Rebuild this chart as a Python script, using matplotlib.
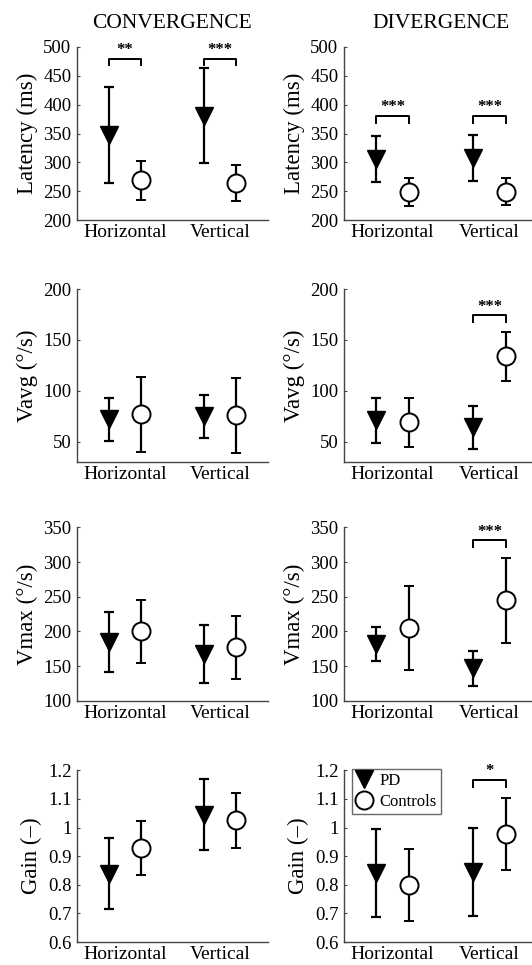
import numpy as np
import matplotlib.pyplot as plt
from matplotlib.lines import Line2D

plt.rcParams['font.family'] = ['Liberation Serif', 'DejaVu Serif']

categories = ['Horizontal', 'Vertical']

# means and error values: [Horizontal, Vertical]
# convergence
conv_lat_pd = [348, 381]
conv_lat_pd_err = [83, 82]
conv_lat_ct = [269, 264]
conv_lat_ct_err = [34, 31]
conv_vavg_pd = [72, 75]
conv_vavg_pd_err = [21, 21]
conv_vavg_ct = [77, 76]
conv_vavg_ct_err = [37, 37]
conv_vmax_pd = [185, 168]
conv_vmax_pd_err = [43, 42]
conv_vmax_ct = [200, 177]
conv_vmax_ct_err = [46, 46]
conv_gain_pd = [0.838, 1.045]
conv_gain_pd_err = [0.124, 0.124]
conv_gain_ct = [0.929, 1.026]
conv_gain_ct_err = [0.094, 0.096]

# divergence
div_lat_pd = [306, 308]
div_lat_pd_err = [40, 40]
div_lat_ct = [248, 249]
div_lat_ct_err = [24, 23]
div_vavg_pd = [71, 64]
div_vavg_pd_err = [22, 21]
div_vavg_ct = [69, 134]
div_vavg_ct_err = [24, 24]
div_vmax_pd = [182, 147]
div_vmax_pd_err = [25, 25]
div_vmax_ct = [205, 245]
div_vmax_ct_err = [61, 61]
div_gain_pd = [0.84, 0.845]
div_gain_pd_err = [0.154, 0.153]
div_gain_ct = [0.80, 0.977]
div_gain_ct_err = [0.126, 0.125]

ylabels = ['Latency (ms)', 'Vavg (°/s)', 'Vmax (°/s)', 'Gain (–)']
ylims = [(200, 500), (30, 200), (100, 350), (0.6, 1.2)]
yticks = [[200, 250, 300, 350, 400, 450, 500],
          [50, 100, 150, 200],
          [100, 150, 200, 250, 300, 350],
          [0.6, 0.7, 0.8, 0.9, 1.0, 1.1, 1.2]]
yticklabels = [None, None, None, ['0.6', '0.7', '0.8', '0.9', '1', '1.1', '1.2']]

# significance brackets: (column, row, category index, stars, bracket level)
sig_col = [0, 0, 1, 1, 1, 1, 1]
sig_row = [0, 0, 0, 0, 1, 2, 3]
sig_cat = [0, 1, 0, 1, 1, 1, 1]
sig_txt = ['**', '***', '***', '***', '***', '***', '*']
sig_lvl = [480, 480, 380, 380, 174, 331, 1.165]

conv = [(conv_lat_pd, conv_lat_pd_err, conv_lat_ct, conv_lat_ct_err),
        (conv_vavg_pd, conv_vavg_pd_err, conv_vavg_ct, conv_vavg_ct_err),
        (conv_vmax_pd, conv_vmax_pd_err, conv_vmax_ct, conv_vmax_ct_err),
        (conv_gain_pd, conv_gain_pd_err, conv_gain_ct, conv_gain_ct_err)]
div = [(div_lat_pd, div_lat_pd_err, div_lat_ct, div_lat_ct_err),
       (div_vavg_pd, div_vavg_pd_err, div_vavg_ct, div_vavg_ct_err),
       (div_vmax_pd, div_vmax_pd_err, div_vmax_ct, div_vmax_ct_err),
       (div_gain_pd, div_gain_pd_err, div_gain_ct, div_gain_ct_err)]

fig = plt.figure(figsize=(5.32, 9.65), dpi=100)

row_bottoms = [0.772, 0.5212, 0.2736, 0.0238]
row_heights = [0.1793, 0.1793, 0.180, 0.178]
col_lefts = [0.1447, 0.6466]
col_widths = [0.359, 0.3647]

x = np.arange(1, 3)
off = 1 / 6
spine_col = '#444444'

axes = {}
for c, data in enumerate([conv, div]):
    for r in range(4):
        ax = fig.add_axes([col_lefts[c], row_bottoms[r], col_widths[c], row_heights[r]])
        axes[(c, r)] = ax
        pd_m, pd_e, ct_m, ct_e = data[r]
        ax.errorbar(x - off, pd_m, yerr=pd_e, fmt='v', color='black', ms=13,
                    elinewidth=1.6, capsize=3.6, capthick=1.6, zorder=3)
        ax.errorbar(x + off, ct_m, yerr=ct_e, fmt='o', color='black', mfc='white',
                    mec='black', mew=1.4, ms=13, elinewidth=1.6, capsize=3.6,
                    capthick=1.6, zorder=3)
        ax.set_xlim(0.5, 2.5)
        ax.set_ylim(ylims[r])
        ax.set_yticks(yticks[r])
        if yticklabels[r] is not None:
            ax.set_yticklabels(yticklabels[r])
        ax.set_xticks(x)
        ax.set_xticklabels(categories)
        ax.set_ylabel(ylabels[r], fontsize=16.5, labelpad=4)
        for s in ['top', 'right']:
            ax.spines[s].set_visible(False)
        for s in ['left', 'bottom']:
            ax.spines[s].set_color(spine_col)
            ax.spines[s].set_linewidth(1.0)
        ax.tick_params(axis='y', direction='in', length=2, color=spine_col,
                       labelsize=13.5, pad=4)
        ax.tick_params(axis='x', length=0, labelsize=14, pad=3)

axes[(0, 0)].set_title('CONVERGENCE', fontsize=15.5, pad=14)
axes[(1, 0)].set_title('DIVERGENCE', fontsize=15.5, pad=14)

# significance brackets
for c, r, k, t, lvl in zip(sig_col, sig_row, sig_cat, sig_txt, sig_lvl):
    ax = axes[(c, r)]
    lo, hi = ylims[r]
    leg = (hi - lo) * 0.04
    x1, x2 = x[k] - off, x[k] + off
    ax.plot([x1, x1, x2, x2], [lvl - leg, lvl, lvl, lvl - leg], color='black',
            lw=1.4, clip_on=False)
    ax.text((x1 + x2) / 2, lvl + (hi - lo) * 0.005, t, ha='center', va='bottom',
            fontsize=12, fontweight='bold', clip_on=False)

# legend
handles = [Line2D([], [], marker='v', ls='none', color='black', ms=13),
           Line2D([], [], marker='o', ls='none', mfc='white', mec='black', mew=1.4, ms=13)]
lg = axes[(1, 3)].legend(handles, ['PD', 'Controls'], loc='upper left',
                         bbox_to_anchor=(0.04, 1.01), borderaxespad=0, fontsize=12,
                         frameon=True, fancybox=False, handlelength=1.0,
                         handletextpad=0.4, borderpad=0.25, labelspacing=0.3)
lg.get_frame().set_edgecolor(spine_col)
lg.get_frame().set_linewidth(1.0)

fig.savefig('out.png', dpi=100)
